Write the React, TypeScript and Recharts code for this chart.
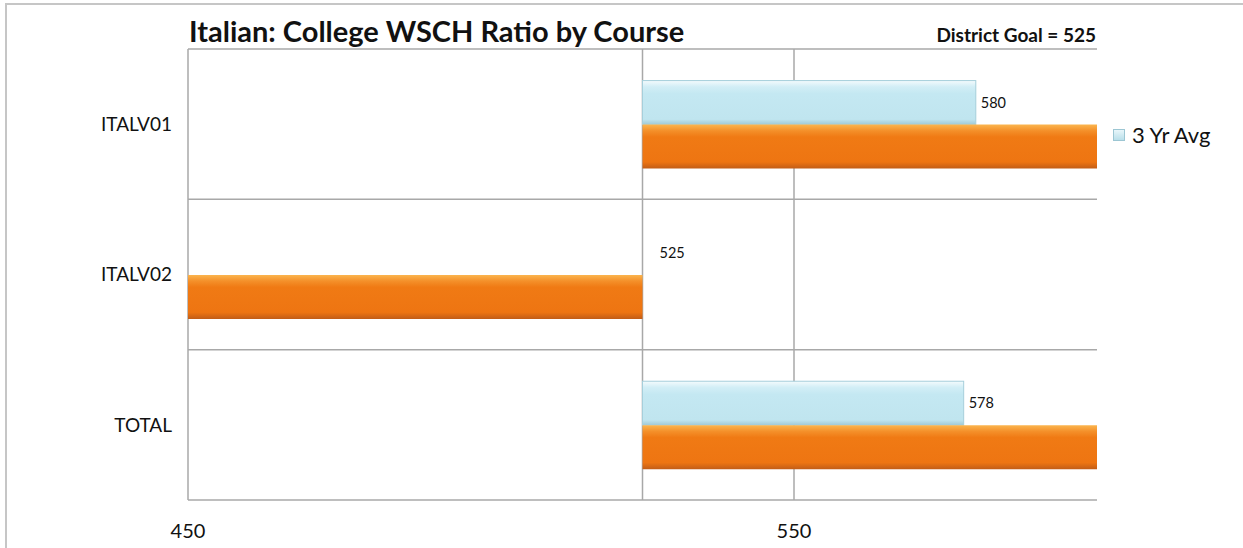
import React from "react";
import { BarChart, Bar, XAxis, YAxis, CartesianGrid, LabelList, Legend } from "recharts";

const courses = ["ITALV01", "ITALV02", "TOTAL"];
const avgValues = [580, 525, 578];
const currentValues = [620, 440, 615];
const goal = 525;
const xTicks = [450, 550];
const xDomain = [450, 600];
const gridValues = [450, goal, 550];

const data = courses.map((c, i) => ({ course: c, avg: avgValues[i], current: currentValues[i] }));

const FONT = "Lato, 'Open Sans', sans-serif";

const AvgLabel = (props: any) => {
  const { x, y, width, height, value } = props;
  const gap = Math.abs(width) > 1 ? 5 : 17;
  return (
    <text x={x + width + gap} y={y + height / 2} dy="0.35em" fontSize={14.5} fontFamily={FONT} fill="#111">
      {value}
    </text>
  );
};

const AvgShape = (props: any) => {
  const { x, y, width, height } = props;
  if (Math.abs(width) < 1) return <g />;
  return <rect x={x} y={y} width={width} height={height} fill="url(#blueGrad)" stroke="#a6cfdb" strokeWidth={1} />;
};

const LegendContent = () => (
  <div style={{ display: "flex", alignItems: "center", fontFamily: FONT, fontSize: 22, color: "#111" }}>
    <span
      style={{
        display: "inline-block",
        width: 10,
        height: 10,
        marginRight: 7,
        background: "linear-gradient(#e8f6fa, #b9dfea)",
        border: "1px solid #9cc6d3",
      }}
    />
    3 Yr Avg
  </div>
);

export default function App() {
  return (
    <div style={{ position: "absolute", left: 0, top: 0, width: 1243, height: 548, overflow: "hidden", background: "#fff" }}>
      <div
        style={{
          position: "absolute",
          left: 5,
          top: 3,
          width: 1300,
          height: 700,
          border: "2px solid #c6c6c6",
          boxSizing: "border-box",
        }}
      />
      <div
        style={{
          position: "absolute",
          left: 189,
          top: 14,
          fontFamily: FONT,
          fontWeight: 700,
          fontSize: 29,
          color: "#111",
          whiteSpace: "nowrap",
          lineHeight: "34px",
        }}
      >
        Italian: College WSCH Ratio by Course
      </div>
      <div
        style={{
          position: "absolute",
          right: 1243 - 1096,
          top: 23,
          fontFamily: FONT,
          fontWeight: 700,
          fontSize: 19,
          color: "#111",
          whiteSpace: "nowrap",
          lineHeight: "24px",
        }}
      >
        District Goal = 525
      </div>
      <div style={{ position: "absolute", left: 0, top: 0 }}>
        <BarChart
          width={1243}
          height={548}
          data={data}
          layout="vertical"
          margin={{ top: 49, right: 26, bottom: 18, left: 0 }}
          barCategoryGap="21%"
          barGap={0}
        >
          <defs>
            <linearGradient id="blueGrad" x1="0" y1="0" x2="0" y2="1">
              <stop offset="0%" stopColor="#f4fbfd" />
              <stop offset="14%" stopColor="#d2eef6" />
              <stop offset="30%" stopColor="#c4e8f2" />
              <stop offset="88%" stopColor="#c0e5ef" />
              <stop offset="100%" stopColor="#9fc9d5" />
            </linearGradient>
            <linearGradient id="orangeGrad" x1="0" y1="0" x2="0" y2="1">
              <stop offset="0%" stopColor="#fbb54e" />
              <stop offset="14%" stopColor="#f4902a" />
              <stop offset="28%" stopColor="#f07a14" />
              <stop offset="85%" stopColor="#ee7512" />
              <stop offset="100%" stopColor="#c25d17" />
            </linearGradient>
          </defs>
          <CartesianGrid
            stroke="#a8a8a8"
            strokeWidth={1.5}
            verticalCoordinatesGenerator={({ offset }: any) =>
              gridValues.map((v) => offset.left + ((v - xDomain[0]) / (xDomain[1] - xDomain[0])) * offset.width)
            }
            horizontalCoordinatesGenerator={({ offset }: any) =>
              courses
                .map((_, k) => offset.top + (k * offset.height) / courses.length)
                .concat([offset.top + offset.height])
            }
          />
          <XAxis
            type="number"
            domain={xDomain}
            ticks={xTicks}
            allowDataOverflow
            axisLine={false}
            tickLine={false}
            tickSize={0}
            tickMargin={24}
            height={30}
            tick={{ fill: "#111", fontSize: 20, fontFamily: FONT }}
          />
          <YAxis
            type="category"
            dataKey="course"
            width={188}
            axisLine={false}
            tickLine={false}
            tickSize={0}
            tickMargin={16}
            tick={{ fill: "#111", fontSize: 19, fontFamily: FONT }}
          />
          <Legend
            layout="vertical"
            align="right"
            verticalAlign="top"
            wrapperStyle={{ left: 1113, top: 121, width: 120 }}
            content={LegendContent}
          />
          <Bar
            name="3 Yr Avg"
            dataKey={(d: any) => [goal, d.avg]}
            fill="url(#blueGrad)"
            minPointSize={0.01}
            shape={AvgShape}
            isAnimationActive={false}
          >
            <LabelList dataKey="avg" content={AvgLabel} />
          </Bar>
          <Bar
            name="Current"
            dataKey={(d: any) => [goal, d.current]}
            fill="url(#orangeGrad)"
            legendType="none"
            isAnimationActive={false}
          />
        </BarChart>
      </div>
    </div>
  );
}
